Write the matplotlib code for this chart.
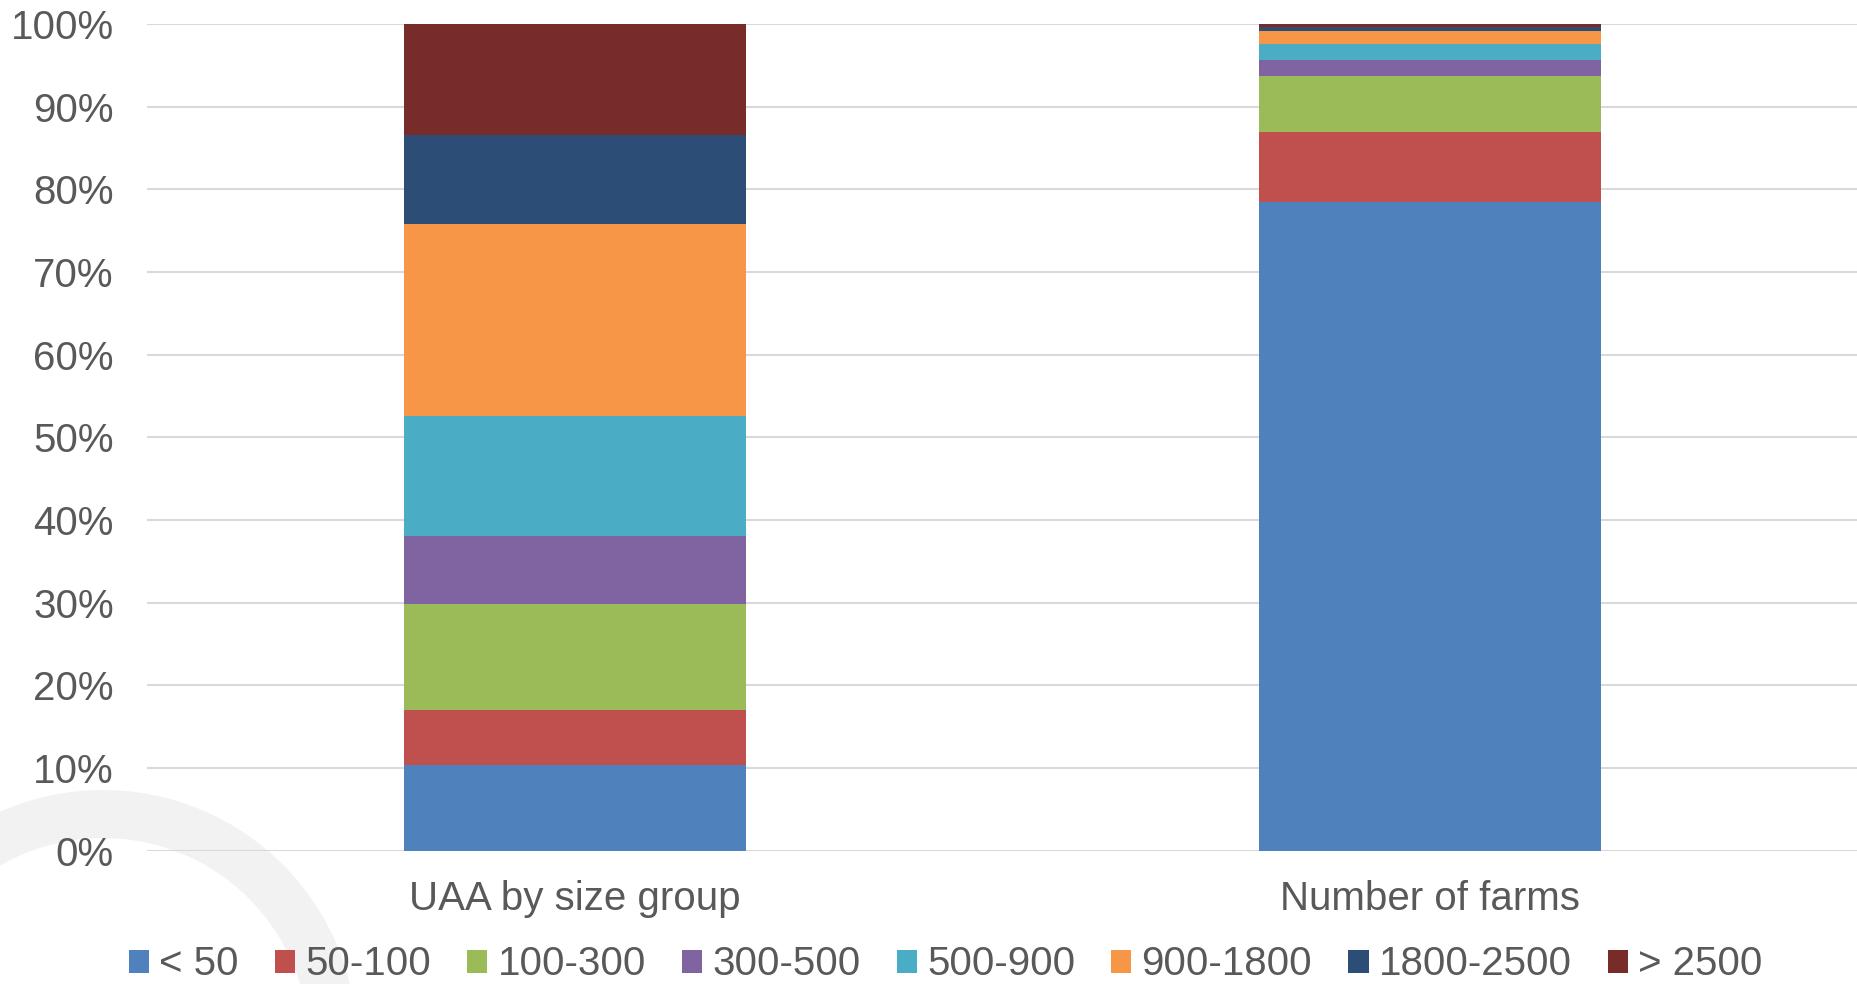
import matplotlib
matplotlib.use("Agg")
import matplotlib.pyplot as plt
from matplotlib.patches import Wedge
from matplotlib.ticker import PercentFormatter

# data (share in %)
categories = ["UAA by size group", "Number of farms"]
size_groups = ["< 50", "50-100", "100-300", "300-500", "500-900",
               "900-1800", "1800-2500", "> 2500"]
uaa_share = [10.3, 6.7, 12.8, 8.2, 14.6, 23.2, 10.8, 13.4]
farms_share = [78.5, 8.4, 6.8, 2.0, 1.9, 1.6, 0.4, 0.4]
colors = ["#4F81BD", "#C0504D", "#9BBB59", "#8064A2", "#4BACC6",
          "#F79646", "#2C4D75", "#772C2A"]

plt.rcParams["font.family"] = ["Liberation Sans", "DejaVu Sans"]
txt = "#595959"

fig = plt.figure(figsize=(18.58, 9.84), dpi=100)
ax = fig.add_axes([147 / 1858, 1 - 850.5 / 984, 1 - 147 / 1858, (850.5 - 24) / 984])
ax.patch.set_visible(False)

# light grey ring in the bottom-left corner (background decoration)
ring = Wedge((1.03, -0.60), 2.54, 0, 360, width=0.48,
             transform=fig.dpi_scale_trans, facecolor="#F2F2F2",
             edgecolor="none", zorder=-1)
fig.add_artist(ring)

x = range(len(categories))
bottom = [0.0, 0.0]
for i, name in enumerate(size_groups):
    vals = [uaa_share[i], farms_share[i]]
    ax.bar(x, vals, width=0.4, bottom=bottom, color=colors[i], label=name,
           zorder=3)
    bottom = [b + v for b, v in zip(bottom, vals)]

ax.set_xlim(-0.5, 1.5)
ax.set_ylim(0, 100)
ax.set_yticks(range(0, 101, 10))
ax.yaxis.set_major_formatter(PercentFormatter(decimals=0))
ax.set_xticks(list(x))
ax.set_xticklabels(categories)
ax.grid(axis="y", color="#D9D9D9", linewidth=1.5, zorder=0)
ax.set_axisbelow(True)
for s in ax.spines.values():
    s.set_visible(False)
ax.tick_params(axis="y", length=0, pad=24, labelsize=29, labelcolor=txt)
ax.tick_params(axis="x", length=0, pad=21, labelsize=29, labelcolor=txt)

fig.legend(loc="center", bbox_to_anchor=(0.509, 0.02), ncol=8,
           frameon=False, fontsize=29, labelcolor=txt,
           handlelength=0.5, handleheight=0.5, handletextpad=0.25,
           columnspacing=0.9, borderpad=0)

fig.savefig("out.png", dpi=100)
